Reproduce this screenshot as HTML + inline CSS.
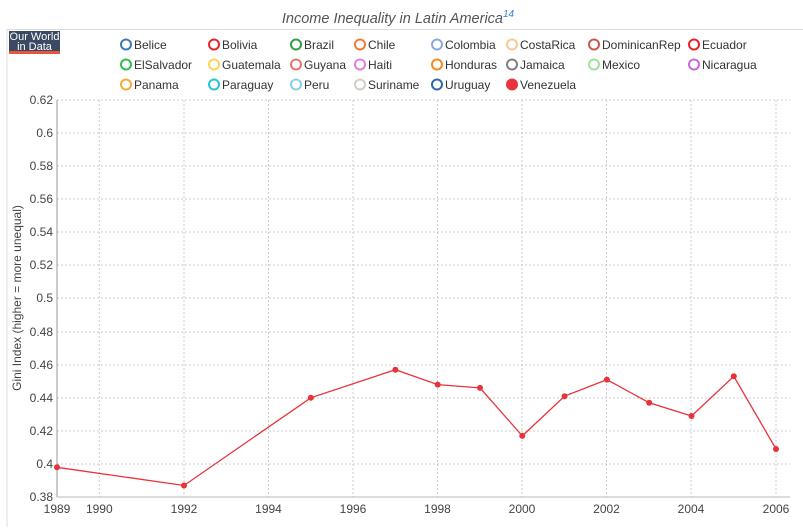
<!DOCTYPE html><html><head><style>body{margin:0;background:#fff}svg{font-family:"Liberation Sans",sans-serif}</style></head><body>
<svg width="803" height="527" xmlns="http://www.w3.org/2000/svg">
<rect x="7" y="29.5" width="800" height="520" fill="none" stroke="#ddd"/>
<text x="398" y="23" font-size="14.5" font-style="italic" fill="#555" text-anchor="middle">Income Inequality in Latin America<tspan dy="-6" font-size="10" fill="#3a7bd5">14</tspan></text>
<rect x="9" y="31" width="51" height="20" fill="#3b4a63"/><rect x="9" y="51" width="51" height="3" fill="#e8553d"/>
<text x="34.5" y="40" font-size="11" fill="#fff" text-anchor="middle">Our World</text><text x="34.5" y="50" font-size="11" fill="#fff" text-anchor="middle">in Data</text>
<g stroke="#ccc" stroke-dasharray="2,2" stroke-width="1">
<line x1="57" x2="790" y1="100" y2="100"/><line x1="57" x2="790" y1="133" y2="133"/><line x1="57" x2="790" y1="166" y2="166"/><line x1="57" x2="790" y1="199" y2="199"/><line x1="57" x2="790" y1="232" y2="232"/><line x1="57" x2="790" y1="265" y2="265"/><line x1="57" x2="790" y1="298" y2="298"/><line x1="57" x2="790" y1="332" y2="332"/><line x1="57" x2="790" y1="365" y2="365"/><line x1="57" x2="790" y1="398" y2="398"/><line x1="57" x2="790" y1="431" y2="431"/><line x1="57" x2="790" y1="464" y2="464"/>
<line x1="99.3" x2="99.3" y1="100" y2="497"/><line x1="184" x2="184" y1="100" y2="497"/><line x1="268.5" x2="268.5" y1="100" y2="497"/><line x1="353" x2="353" y1="100" y2="497"/><line x1="437.5" x2="437.5" y1="100" y2="497"/><line x1="522" x2="522" y1="100" y2="497"/><line x1="606.5" x2="606.5" y1="100" y2="497"/><line x1="691" x2="691" y1="100" y2="497"/><line x1="776" x2="776" y1="100" y2="497"/>
</g>
<line x1="57" x2="57" y1="100" y2="497" stroke="#999"/><line x1="57" x2="790" y1="497" y2="497" stroke="#bbb"/>
<g font-size="12" fill="#444" text-anchor="end">
<text x="53" y="104">0.62</text><text x="53" y="137">0.6</text><text x="53" y="170">0.58</text><text x="53" y="203">0.56</text><text x="53" y="236">0.54</text><text x="53" y="269">0.52</text><text x="53" y="302">0.5</text><text x="53" y="336">0.48</text><text x="53" y="369">0.46</text><text x="53" y="402">0.44</text><text x="53" y="435">0.42</text><text x="53" y="468">0.4</text><text x="53" y="501">0.38</text>
</g>
<g font-size="12" fill="#444" text-anchor="middle">
<text x="57" y="513">1989</text><text x="99.3" y="513">1990</text><text x="184" y="513">1992</text><text x="268.5" y="513">1994</text><text x="353" y="513">1996</text><text x="437.5" y="513">1998</text><text x="522" y="513">2000</text><text x="606.5" y="513">2002</text><text x="691" y="513">2004</text><text x="776" y="513">2006</text>
</g>
<text transform="translate(21,298) rotate(-90)" font-size="12" fill="#444" text-anchor="middle">Gini Index (higher = more unequal)</text>
<polyline fill="none" stroke="#e8333a" stroke-width="1.3" points="57,467.3 184,485.5 310.8,397.8 395.4,369.7 437.7,384.6 480,387.9 522.3,435.9 564.6,396.2 606.9,379.6 649.2,402.8 691.5,416 733.8,376.3 776,449"/>
<g fill="#e8333a"><circle cx="57" cy="467.3" r="3"/><circle cx="184" cy="485.5" r="3"/><circle cx="310.8" cy="397.8" r="3"/><circle cx="395.4" cy="369.7" r="3"/><circle cx="437.7" cy="384.6" r="3"/><circle cx="480" cy="387.9" r="3"/><circle cx="522.3" cy="435.9" r="3"/><circle cx="564.6" cy="396.2" r="3"/><circle cx="606.9" cy="379.6" r="3"/><circle cx="649.2" cy="402.8" r="3"/><circle cx="691.5" cy="416" r="3"/><circle cx="733.8" cy="376.3" r="3"/><circle cx="776" cy="449" r="3"/></g>
<g font-size="12" fill="#333" stroke-width="2">
<circle cx="126" cy="44.5" r="5" fill="none" stroke="#3a78b8"/><text x="134" y="49">Belice</text>
<circle cx="214" cy="44.5" r="5" fill="none" stroke="#e0282e"/><text x="222" y="49">Bolivia</text>
<circle cx="296" cy="44.5" r="5" fill="none" stroke="#2fa048"/><text x="304" y="49">Brazil</text>
<circle cx="360" cy="44.5" r="5" fill="none" stroke="#f47a30"/><text x="368" y="49">Chile</text>
<circle cx="437" cy="44.5" r="5" fill="none" stroke="#8fa8dc"/><text x="445" y="49">Colombia</text>
<circle cx="512" cy="44.5" r="5" fill="none" stroke="#f8c79a"/><text x="520" y="49">CostaRica</text>
<circle cx="594" cy="44.5" r="5" fill="none" stroke="#c9574f"/><text x="602" y="49">DominicanRep</text>
<circle cx="694" cy="44.5" r="5" fill="none" stroke="#e8202a"/><text x="702" y="49">Ecuador</text>
<circle cx="126" cy="64.5" r="5" fill="none" stroke="#2fbf4b"/><text x="134" y="69">ElSalvador</text>
<circle cx="214" cy="64.5" r="5" fill="none" stroke="#fbd55a"/><text x="222" y="69">Guatemala</text>
<circle cx="296" cy="64.5" r="5" fill="none" stroke="#e8736c"/><text x="304" y="69">Guyana</text>
<circle cx="360" cy="64.5" r="5" fill="none" stroke="#e07ed8"/><text x="368" y="69">Haiti</text>
<circle cx="437" cy="64.5" r="5" fill="none" stroke="#f58a1f"/><text x="445" y="69">Honduras</text>
<circle cx="512" cy="64.5" r="5" fill="none" stroke="#7f7f7f"/><text x="520" y="69">Jamaica</text>
<circle cx="594" cy="64.5" r="5" fill="none" stroke="#9ee39a"/><text x="602" y="69">Mexico</text>
<circle cx="694" cy="64.5" r="5" fill="none" stroke="#c86bd8"/><text x="702" y="69">Nicaragua</text>
<circle cx="126" cy="84.5" r="5" fill="none" stroke="#f6a93a"/><text x="134" y="89">Panama</text>
<circle cx="214" cy="84.5" r="5" fill="none" stroke="#27c6d6"/><text x="222" y="89">Paraguay</text>
<circle cx="296" cy="84.5" r="5" fill="none" stroke="#86d0ea"/><text x="304" y="89">Peru</text>
<circle cx="360" cy="84.5" r="5" fill="none" stroke="#cfcfc8"/><text x="368" y="89">Suriname</text>
<circle cx="437" cy="84.5" r="5" fill="none" stroke="#2d6aa8"/><text x="445" y="89">Uruguay</text>
<circle cx="512" cy="84.5" r="6" fill="#e8333a"/><text x="520" y="89">Venezuela</text>
</g>
</svg></body></html>
